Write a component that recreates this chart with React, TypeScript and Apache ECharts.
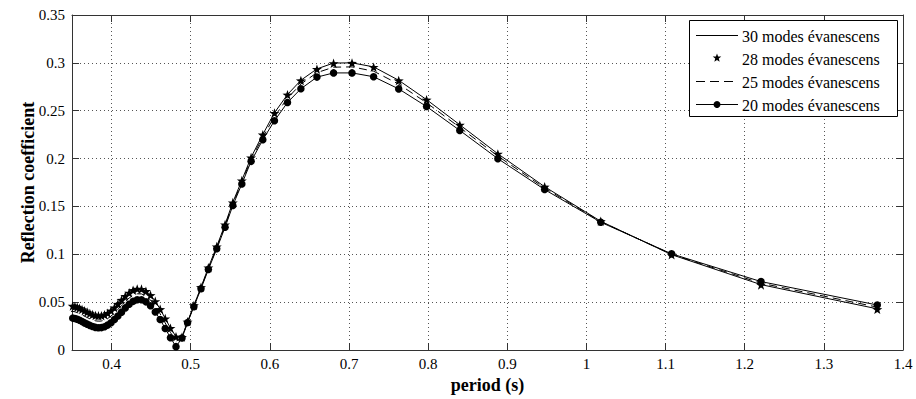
import React, { useEffect, useRef } from "react";
import * as echarts from "echarts";

// period (s)
const periods = [
  0.3482, 0.3509, 0.3537, 0.3566, 0.3596, 0.3627, 0.3659, 0.3692, 0.3726, 0.3761,
  0.3797, 0.3834, 0.3872, 0.3911, 0.3951, 0.3993, 0.4036, 0.408, 0.4126, 0.4173,
  0.4222, 0.4272, 0.4324, 0.4378, 0.4434, 0.4492, 0.4552, 0.4614, 0.4678, 0.4744,
  0.4814, 0.489, 0.496, 0.504, 0.513, 0.5223, 0.5329, 0.5434, 0.5532, 0.5646,
  0.5763, 0.5911, 0.6058, 0.6223, 0.6392, 0.6595, 0.6805, 0.7038, 0.7311, 0.7628,
  0.798, 0.84, 0.8881, 0.9472, 1.0181, 1.1076, 1.2206, 1.3675,
];

const modes30 = [
  0.0465, 0.0463, 0.0458, 0.045, 0.0439, 0.0426, 0.0412, 0.0398, 0.0384, 0.0372,
  0.0363, 0.0359, 0.0361, 0.037, 0.0387, 0.0412, 0.0444, 0.0482, 0.0524, 0.0564,
  0.0599, 0.0626, 0.064, 0.0638, 0.0616, 0.0574, 0.051, 0.0427, 0.033, 0.023,
  0.014, 0.0136, 0.0296, 0.0466, 0.0656, 0.0862, 0.1082, 0.1312, 0.1543, 0.1773,
  0.2013, 0.2252, 0.2478, 0.2669, 0.2818, 0.2937, 0.2998, 0.3, 0.2958, 0.2818,
  0.2616, 0.2353, 0.205, 0.1706, 0.1345, 0.0996, 0.0683, 0.043,
];

const modes28 = [
  0.0462, 0.046, 0.0455, 0.0447, 0.0436, 0.0423, 0.041, 0.0396, 0.0382, 0.037,
  0.0361, 0.0357, 0.0359, 0.0368, 0.0385, 0.041, 0.0442, 0.048, 0.0522, 0.0562,
  0.0597, 0.0624, 0.0638, 0.0636, 0.0614, 0.0572, 0.0508, 0.0425, 0.0328, 0.0228,
  0.0138, 0.0135, 0.0295, 0.0465, 0.0655, 0.086, 0.108, 0.131, 0.154, 0.177,
  0.201, 0.2249, 0.2475, 0.2666, 0.2815, 0.2934, 0.2995, 0.2998, 0.2955, 0.2815,
  0.2614, 0.2351, 0.2049, 0.1705, 0.1345, 0.0995, 0.068, 0.0425,
];

const modes25 = [
  0.0405, 0.0403, 0.0399, 0.0391, 0.0379, 0.0366, 0.0353, 0.0339, 0.0326, 0.0314,
  0.0305, 0.0301, 0.0303, 0.0312, 0.0329, 0.0354, 0.0386, 0.0424, 0.0465, 0.0507,
  0.0543, 0.0572, 0.0587, 0.0586, 0.0564, 0.0523, 0.0458, 0.0377, 0.0282, 0.0183,
  0.0092, 0.013, 0.029, 0.046, 0.0648, 0.0851, 0.107, 0.1297, 0.1526, 0.1755,
  0.1992, 0.2226, 0.2438, 0.2631, 0.2778, 0.2898, 0.2955, 0.2958, 0.2913, 0.2778,
  0.2583, 0.2325, 0.2026, 0.1692, 0.1341, 0.1, 0.0698, 0.0448,
];

const modes20 = [
  0.0335, 0.0333, 0.033, 0.0322, 0.031, 0.0297, 0.0283, 0.027, 0.0257, 0.0245,
  0.0236, 0.0232, 0.0234, 0.0243, 0.026, 0.0285, 0.0318, 0.0355, 0.0395, 0.044,
  0.0478, 0.0508, 0.0525, 0.0525, 0.0503, 0.0462, 0.0398, 0.0318, 0.0225, 0.0128,
  0.0035, 0.0125, 0.0286, 0.0453, 0.064, 0.0841, 0.1057, 0.1282, 0.1509, 0.1735,
  0.1971, 0.2197, 0.2395, 0.2586, 0.2729, 0.2851, 0.2895, 0.2895, 0.2855, 0.2728,
  0.2544, 0.2294, 0.1999, 0.1676, 0.1335, 0.1005, 0.0715, 0.047,
];

const xTicks = [0.4, 0.5, 0.6, 0.7, 0.8, 0.9, 1, 1.1, 1.2, 1.3, 1.4];
const seriesNames = [
  "30 modes évanescens",
  "28 modes évanescens",
  "25 modes évanescens",
  "20 modes évanescens",
];

const STAR =
  "path://M0,-10L2.35,-3.24L9.51,-3.09L3.8,1.24L5.88,8.09L0,4L-5.88,8.09L-3.8,1.24L-9.51,-3.09L-2.35,-3.24Z";

const SERIF = '"Liberation Serif", "Times New Roman", serif';

function starPoints(cx: number, cy: number, r: number) {
  const pts: number[][] = [];
  for (let i = 0; i < 10; i++) {
    const rr = i % 2 === 0 ? r : r * 0.42;
    const a = -Math.PI / 2 + (i * Math.PI) / 5;
    pts.push([cx + rr * Math.cos(a), cy + rr * Math.sin(a)]);
  }
  return pts;
}

export default function App() {
  const ref = useRef<HTMLDivElement>(null);
  useEffect(() => {
    if (!ref.current) return;
    const chart = echarts.init(ref.current, undefined, { renderer: "svg" });
    const pair = (arr: number[]) => periods.map((p, i) => [p, arr[i]]);
    const axisColor = "#333";
    const gridLine = { show: true, lineStyle: { color: "#555", type: [1, 3] as any, width: 1 } };

    const legendRows = [35, 58, 81, 104];
    const lx1 = 696, lx2 = 738, lmid = 717;
    const graphic: any[] = [
      {
        type: "rect",
        z: 100,
        shape: { x: 689.5, y: 20.5, width: 208, height: 96 },
        style: { fill: "#fff", stroke: "#000", lineWidth: 1 },
      },
      {
        type: "line",
        z: 101,
        shape: { x1: lx1, y1: legendRows[0] + 0.5, x2: lx2, y2: legendRows[0] + 0.5 },
        style: { stroke: "#000", lineWidth: 1 },
      },
      {
        type: "polygon",
        z: 101,
        shape: { points: starPoints(lmid, legendRows[1], 4.5) },
        style: { fill: "#000" },
      },
      {
        type: "line",
        z: 101,
        shape: { x1: lx1, y1: legendRows[2] + 0.5, x2: lx2, y2: legendRows[2] + 0.5 },
        style: { stroke: "#000", lineWidth: 1, lineDash: [9, 5] },
      },
      {
        type: "line",
        z: 101,
        shape: { x1: lx1, y1: legendRows[3] + 0.5, x2: lx2, y2: legendRows[3] + 0.5 },
        style: { stroke: "#000", lineWidth: 1 },
      },
      {
        type: "circle",
        z: 101,
        shape: { cx: lmid, cy: legendRows[3] + 0.5, r: 3.5 },
        style: { fill: "#000" },
      },
      ...seriesNames.map((n, i) => ({
        type: "text",
        z: 101,
        x: 742,
        y: legendRows[i] + 1,
        style: {
          text: n,
          fontSize: 16,
          fontFamily: SERIF,
          fill: "#000",
          align: "left",
          verticalAlign: "middle",
        },
      })),
    ];

    chart.setOption({
      animation: false,
      backgroundColor: "#fff",
      grid: { left: 72, right: 13, top: 15, bottom: 48, containLabel: false },
      xAxis: [
        {
          type: "value",
          min: 0.35,
          max: 1.4,
          name: "period (s)",
          nameLocation: "middle",
          nameGap: 26,
          nameMoveOverlap: false,
          nameTextStyle: { fontFamily: SERIF, fontWeight: "bold", fontSize: 18, color: "#000" },
          axisLine: { show: true, onZero: false, lineStyle: { color: axisColor } },
          axisTick: { show: true, inside: true, length: 7, customValues: xTicks, lineStyle: { color: axisColor } },
          axisLabel: { customValues: xTicks, fontFamily: SERIF, fontSize: 15, color: "#000", margin: 6 },
          splitLine: gridLine,
        },
        {
          type: "value",
          position: "top",
          min: 0.35,
          max: 1.4,
          axisLine: { show: true, onZero: false, lineStyle: { color: axisColor } },
          axisTick: { show: true, inside: true, length: 7, customValues: xTicks, lineStyle: { color: axisColor } },
          axisLabel: { show: false },
          splitLine: { show: false },
        },
      ],
      yAxis: [
        {
          type: "value",
          min: 0,
          max: 0.35,
          interval: 0.05,
          name: "Reflection coefficient",
          nameLocation: "middle",
          nameGap: 35,
          nameMoveOverlap: false,
          nameTextStyle: { fontFamily: SERIF, fontWeight: "bold", fontSize: 18, color: "#000" },
          axisLine: { show: true, onZero: false, lineStyle: { color: axisColor } },
          axisTick: { show: true, inside: true, length: 7, lineStyle: { color: axisColor } },
          axisLabel: { fontFamily: SERIF, fontSize: 15, color: "#000", margin: 7 },
          splitLine: gridLine,
        },
        {
          type: "value",
          position: "right",
          min: 0,
          max: 0.35,
          interval: 0.05,
          axisLine: { show: true, onZero: false, lineStyle: { color: axisColor } },
          axisTick: { show: true, inside: true, length: 7, lineStyle: { color: axisColor } },
          axisLabel: { show: false },
          splitLine: { show: false },
        },
      ],
      series: [
        {
          name: seriesNames[0],
          type: "line",
          data: pair(modes30),
          showSymbol: false,
          symbol: "none",
          lineStyle: { color: "#000", width: 1 },
          z: 3,
        },
        {
          name: seriesNames[1],
          type: "line",
          data: pair(modes28),
          symbol: STAR,
          symbolSize: 10,
          symbolKeepAspect: true,
          itemStyle: { color: "#000" },
          lineStyle: { color: "#000", width: 0, opacity: 0 },
          z: 4,
        },
        {
          name: seriesNames[2],
          type: "line",
          data: pair(modes25),
          showSymbol: false,
          symbol: "none",
          lineStyle: { color: "#000", width: 1, type: [8, 5] as any },
          z: 3,
        },
        {
          name: seriesNames[3],
          type: "line",
          data: pair(modes20),
          symbol: "circle",
          symbolSize: 7.5,
          itemStyle: { color: "#000" },
          lineStyle: { color: "#000", width: 1 },
          z: 5,
        },
      ],
      graphic,
    });
    return () => chart.dispose();
  }, []);
  return (
    <div
      ref={ref}
      style={{ position: "fixed", left: 0, top: 0, width: 916, height: 399, background: "#fff" }}
    />
  );
}
